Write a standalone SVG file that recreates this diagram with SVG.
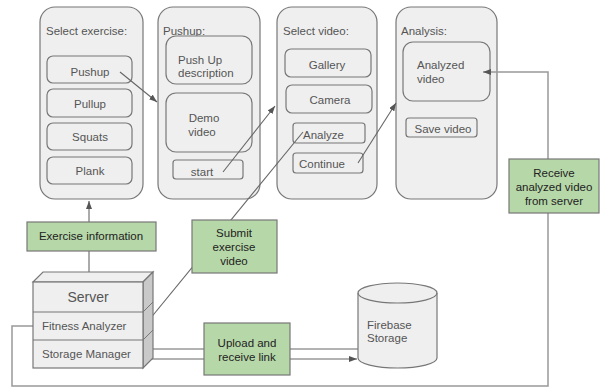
<svg xmlns="http://www.w3.org/2000/svg" width="600" height="388" viewBox="0 0 600 388">
<style>
text{font-family:"Liberation Sans",Arial,sans-serif;font-size:11.5px;fill:#555}
.panel{fill:#efefef;stroke:#777;stroke-width:1.2}
.btn{fill:#efefef;stroke:#777;stroke-width:1.2}
.green{fill:#b6d7a8;stroke:#777;stroke-width:1.2}
.green-t{fill:#222;text-anchor:middle}
.mid{text-anchor:middle}
.ln{fill:none;stroke:#666;stroke-width:1.1}
.loop{fill:none;stroke:#999;stroke-width:1.5}
</style>
<defs>
<marker id="ah" markerUnits="userSpaceOnUse" markerWidth="8" markerHeight="6" refX="8" refY="3" orient="auto">
<path d="M0,0 L8,3 L0,6 z" fill="#555"/>
</marker>
</defs>
<rect width="600" height="388" fill="#fff"/>

<g id="panel-select-exercise">
<rect class="panel" x="40" y="7" width="103" height="192" rx="15"/>
<text x="46" y="35">Select exercise:</text>
<rect class="btn" x="47" y="56" width="85" height="27" rx="6"/>
<text class="mid" x="90" y="76">Pushup</text>
<rect class="btn" x="47" y="89" width="85" height="28" rx="6"/>
<text class="mid" x="90" y="108">Pullup</text>
<rect class="btn" x="47" y="123" width="85" height="27" rx="6"/>
<text class="mid" x="90" y="141">Squats</text>
<rect class="btn" x="47" y="157" width="85" height="27" rx="6"/>
<text class="mid" x="90" y="175">Plank</text>
</g>

<g id="panel-pushup">
<rect class="panel" x="158" y="7" width="102" height="192" rx="15"/>
<text x="163" y="35">Pushup:</text>
<rect class="btn" x="166" y="36" width="86" height="48" rx="10"/>
<text x="178" y="64">Push Up</text>
<text x="178" y="77">description</text>
<rect class="btn" x="166" y="93" width="86" height="59" rx="10"/>
<text class="mid" x="204" y="122">Demo</text>
<text class="mid" x="202" y="136">video</text>
<rect class="btn" x="173" y="160" width="70" height="19" rx="3"/>
<text class="mid" x="202" y="176">start</text>
</g>

<g id="panel-select-video">
<rect class="panel" x="277" y="7" width="100" height="192" rx="15"/>
<text x="283" y="35">Select video:</text>
<rect class="btn" x="285" y="49" width="86" height="28" rx="6"/>
<text class="mid" x="327" y="69">Gallery</text>
<rect class="btn" x="286" y="85" width="86" height="28" rx="6"/>
<text class="mid" x="330" y="104">Camera</text>
<rect class="btn" x="293" y="123" width="72" height="20" rx="3"/>
<text x="303" y="139">Analyze</text>
<rect class="btn" x="293" y="153" width="70" height="20" rx="3"/>
<text class="mid" x="322" y="168">Continue</text>
</g>

<g id="panel-analysis">
<rect class="panel" x="396" y="7" width="101" height="192" rx="15"/>
<text x="401" y="35">Analysis:</text>
<rect class="btn" x="403" y="42" width="87" height="59" rx="10"/>
<text x="417" y="69">Analyzed</text>
<text x="417" y="83">video</text>
<rect class="btn" x="406" y="118" width="71" height="19" rx="3"/>
<text class="mid" x="443" y="133">Save video</text>
</g>

<g id="connectors">
<line class="ln" x1="89" y1="282" x2="89" y2="201" marker-end="url(#ah)"/>
<line class="ln" x1="120" y1="72" x2="157" y2="102" marker-end="url(#ah)" stroke="#444"/>
<line class="ln" x1="223" y1="172" x2="275" y2="106" marker-end="url(#ah)"/>
<line class="ln" x1="303" y1="132" x2="145" y2="325" marker-end="url(#ah)"/>
<line class="ln" x1="358" y1="163" x2="396" y2="103" marker-end="url(#ah)"/>
<path class="loop" d="M33,326 H12 V386 H548 V72 H483" marker-end="url(#ah)"/>
<line class="ln" x1="358" y1="349" x2="145" y2="349" marker-end="url(#ah)"/>
<line class="ln" x1="145" y1="359" x2="357" y2="359" marker-end="url(#ah)"/>
</g>

<g id="exercise-information">
<rect class="green" x="27" y="222" width="129" height="29"/>
<text class="green-t" x="91" y="240">Exercise information</text>
</g>

<g id="submit-exercise-video">
<rect class="green" x="192" y="220" width="85" height="53"/>
<text class="green-t" x="234" y="237">Submit</text>
<text class="green-t" x="234" y="251">exercise</text>
<text class="green-t" x="234" y="265">video</text>
</g>

<g id="upload-receive-link">
<rect class="green" x="204" y="323" width="86" height="52"/>
<text class="green-t" x="247" y="347">Upload and</text>
<text class="green-t" x="247" y="361">receive link</text>
</g>

<g id="receive-analyzed-video">
<rect class="green" x="509" y="159" width="90" height="54"/>
<text class="green-t" x="554" y="177">Receive</text>
<text class="green-t" x="554" y="191">analyzed video</text>
<text class="green-t" x="554" y="205">from server</text>
</g>

<g id="server">
<polygon points="33,282 43,272 153,272 143,282" fill="#efefef" stroke="#777" stroke-width="1.2"/>
<polygon points="143,282 153,272 153,358 143,368" fill="#c9c9c9" stroke="#777" stroke-width="1.2"/>
<line x1="143" y1="312" x2="153" y2="302" stroke="#777"/>
<line x1="143" y1="340" x2="153" y2="330" stroke="#777"/>
<rect x="33" y="282" width="110" height="86" fill="#efefef" stroke="#777" stroke-width="1.2"/>
<line x1="33" y1="312" x2="143" y2="312" stroke="#777" stroke-width="1.2"/>
<line x1="33" y1="340" x2="143" y2="340" stroke="#777" stroke-width="1.2"/>
<text class="mid" x="88" y="302" style="font-size:14px">Server</text>
<text x="42" y="330">Fitness Analyzer</text>
<text x="42" y="358">Storage Manager</text>
</g>

<g id="firebase-storage">
<path d="M358,293 V358 A39.5,10 0 0 0 437,358 V293 A39.5,10 0 0 0 358,293 Z" fill="#efefef" stroke="#777" stroke-width="1.2"/>
<path d="M358,293 A39.5,10 0 0 0 437,293" fill="none" stroke="#777" stroke-width="1.2"/>
<text x="367" y="329">Firebase</text>
<text x="367" y="342">Storage</text>
</g>
</svg>
